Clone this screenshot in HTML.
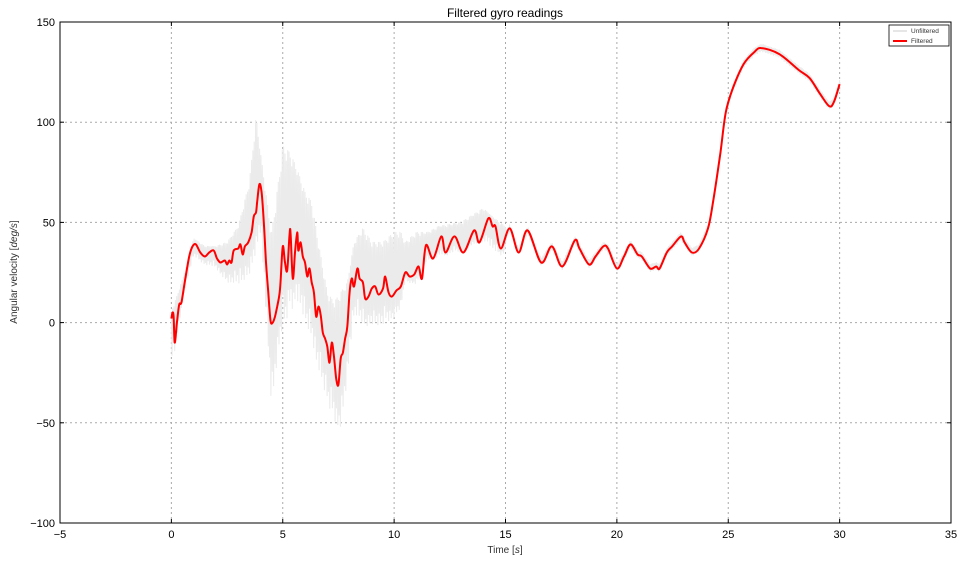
<!DOCTYPE html>
<html><head><meta charset="utf-8"><style>
body{margin:0;background:#fff;}
svg{display:block;font-family:"Liberation Sans","DejaVu Sans",sans-serif;}
</style></head><body>
<svg id="chart" width="965" height="564"></svg>
<script>
// ---- data ----
const xTicks = [-5,0,5,10,15,20,25,30,35];
const yTicks = [-100,-50,0,50,100,150];
const yTickLabels = ["\u2212100","\u221250","0","50","100","150"];
const filtT = [0,0.05,0.1,0.15,0.25,0.35,0.45,0.6,0.8,0.95,1.1,1.3,1.5,1.7,1.9,2.05,2.2,2.4,2.5,2.6,2.7,2.8,3.0,3.1,3.2,3.3,3.45,3.6,3.7,3.8,3.85,3.95,4.05,4.15,4.25,4.35,4.45,4.55,4.65,4.75,4.85,4.9,5.0,5.1,5.2,5.3,5.35,5.45,5.55,5.65,5.7,5.8,5.9,6.0,6.1,6.2,6.3,6.4,6.5,6.6,6.7,6.8,6.9,7.0,7.1,7.2,7.3,7.4,7.5,7.6,7.7,7.8,7.9,8.0,8.1,8.2,8.35,8.45,8.6,8.7,8.85,9.0,9.15,9.3,9.5,9.6,9.75,9.9,10.1,10.3,10.5,10.7,10.9,11.1,11.25,11.43,11.75,12.12,12.31,12.71,13.11,13.59,13.83,14.23,14.42,14.55,14.79,15.19,15.59,15.99,16.6,17.08,17.55,18.11,18.32,18.75,19.04,19.39,19.6,20.0,20.32,20.61,20.93,21.12,21.49,21.76,21.92,22.24,22.48,22.88,23.04,23.37,23.69,24.09,24.33,24.65,24.89,25.21,25.69,26.17,26.49,27.29,28.17,28.65,29.13,29.53,29.74,30.0];
const filtV = [2,5,3,-10,0,9,10,20,33,38,39,35,33,35,36,32,30,31,29,31,30,36,37,39,34,38,40,45,53,55,60,69,65,50,30,15,1,0,3,8,14,20,38,30,26,43,45,22,35,45,36,40,33,30,23,27,20,15,3,8,4,-5,-8,-12,-20,-10,-17,-28,-31,-18,-15,-8,-2,15,22,18,27,22,20,12,13,17,18,14,17,23,15,13,16,18,25,23,24,28,22,38.6,32,43,35,43,35,46,40,52,48,48,37,47,35,46,30,38,28,41,37,29,33,38,37,27,33,39,34,33,27,28,27,35,38,43,40,35,37,47,61,85,105,117,129,135,137,134,126,122,114,108,110,119];
const rawT = [0,0.3,0.6,1,1.5,2,2.5,3,3.5,3.8,4.0,4.3,4.5,4.8,5.0,5.3,5.6,6.0,6.3,6.6,7.0,7.3,7.6,7.9,8.2,8.6,9.0,9.5,10,10.3,10.5,11,11.5,12,13,14,14.5,15];
const rawHigh = [5,15,25,42,38,38,40,48,70,103,85,60,45,70,88,85,78,65,60,40,15,10,15,20,40,47,40,40,45,45,40,45,45,48,50,57,52,48];
const rawLow = [-25,-5,15,32,28,26,18,15,20,30,40,-10,-52,-20,-10,0,5,-5,-15,-30,-45,-55,-60,-35,0,-5,-5,-5,0,5,20,18,30,32,35,40,33,33];

// ---- layout ----
const L=60,R=951,T=22,B=523;
const xs=t=>L+(t+5)/40*(R-L);
const ys=v=>B-(v+100)/250*(B-T);
const NS="http://www.w3.org/2000/svg";
const svg=document.getElementById('chart');
function mk(tag,attrs,parent){const e=document.createElementNS(NS,tag);for(const k in attrs)e.setAttribute(k,attrs[k]);(parent||svg).appendChild(e);return e;}
function interp(ts,vs,t){if(t<=ts[0])return vs[0];for(let i=1;i<ts.length;i++){if(t<=ts[i]){const f=(t-ts[i-1])/(ts[i]-ts[i-1]);return vs[i-1]+f*(vs[i]-vs[i-1]);}}return vs[vs.length-1];}
function smoothPath(p){let d='M'+p[0][0].toFixed(1)+','+p[0][1].toFixed(1);
  for(let i=0;i<p.length-1;i++){const p0=p[Math.max(0,i-1)],p1=p[i],p2=p[i+1],p3=p[Math.min(p.length-1,i+2)];
    const c1x=p1[0]+(p2[0]-p0[0])/6,c1y=p1[1]+(p2[1]-p0[1])/6,c2x=p2[0]-(p3[0]-p1[0])/6,c2y=p2[1]-(p3[1]-p1[1])/6;
    d+=' C'+c1x.toFixed(1)+','+c1y.toFixed(1)+' '+c2x.toFixed(1)+','+c2y.toFixed(1)+' '+p2[0].toFixed(1)+','+p2[1].toFixed(1);}
  return d;}

// grid
const grid=mk('g',{});


xTicks.slice(1,-1).forEach(t=>mk('line',{x1:xs(t),x2:xs(t),y1:T,y2:B,stroke:'#aaa','stroke-dasharray':'2,3','stroke-width':1},grid));
yTicks.slice(1,-1).forEach(v=>mk('line',{x1:L,x2:R,y1:ys(v),y2:ys(v),stroke:'#aaa','stroke-dasharray':'2,3','stroke-width':1},grid));

// unfiltered
const cyc=[1,0.75,0.95,0.6,0.9,0.8,1,0.5];
let pts=[];let k=0;
for(let t=0;t<=30.001;t+=0.03){
  const f=interp(filtT,filtV,t);
  let hi,lo;
  if(t<=15){hi=interp(rawT,rawHigh,t);lo=interp(rawT,rawLow,t);}else{hi=f+2;lo=f-2;}
  const c=cyc[k%cyc.length];
  const v=(k%2===0)?f+(hi-f)*c:f+(lo-f)*c;
  pts.push(xs(t).toFixed(1)+','+ys(v).toFixed(1));k++;
}
const raw=mk('polyline',{points:pts.join(' '),fill:'none',stroke:'#ebebeb','stroke-width':1.1,'stroke-linejoin':'round'});



// filtered
const fl=mk('path',{d:smoothPath(filtT.map((t,i)=>[xs(t),ys(filtV[i])])),fill:'none',stroke:'#ff0000','stroke-width':2,'stroke-linejoin':'round'});



// axes frame
const fr=mk('rect',{x:L,y:T,width:R-L,height:B-T,fill:'none',stroke:'#000','stroke-width':1});



// ticks and labels
xTicks.forEach(t=>{
  const x=xs(t);
  mk('line',{x1:x,x2:x,y1:B,y2:B-4,stroke:'#000'});
  mk('line',{x1:x,x2:x,y1:T,y2:T+4,stroke:'#000'});
  const tx=mk('text',{x:x,y:B+15,'text-anchor':'middle','font-size':11,fill:'#000'});
  tx.textContent=t<0?'\u2212'+Math.abs(t):String(t);
  
  
});
yTicks.forEach((v,i)=>{
  const y=ys(v);
  mk('line',{x1:L,x2:L+4,y1:y,y2:y,stroke:'#000'});
  mk('line',{x1:R,x2:R-4,y1:y,y2:y,stroke:'#000'});
  const tx=mk('text',{x:L-5,y:y+4,'text-anchor':'end','font-size':11,fill:'#000'});
  tx.textContent=yTickLabels[i];
  
  
});
</script>
<svg width="965" height="564" style="position:absolute;left:0;top:0;pointer-events:none">
  <text x="505" y="17" text-anchor="middle" font-size="12">Filtered gyro readings</text>
  <text x="505" y="553" text-anchor="middle" font-size="10" fill="#333">Time [<tspan font-style="italic">s</tspan>]</text>
  <text transform="translate(17,272) rotate(-90)" text-anchor="middle" font-size="10" fill="#333">Angular velocity [<tspan font-style="italic">deg/s</tspan>]</text>
  <g>
    <rect x="889" y="25" width="60" height="21" fill="#fff" stroke="#000" stroke-width="0.8"/>
    <line x1="893" x2="907" y1="31" y2="31" stroke="#e6e6e6" stroke-width="2"/>
    <text x="911" y="33" font-size="6.5" fill="#333">Unfiltered</text>
    <line x1="893" x2="907" y1="41" y2="41" stroke="#ff0000" stroke-width="2"/>
    <text x="911" y="43" font-size="6.5" fill="#333">Filtered</text>
  </g>
</svg>
</body></html>
